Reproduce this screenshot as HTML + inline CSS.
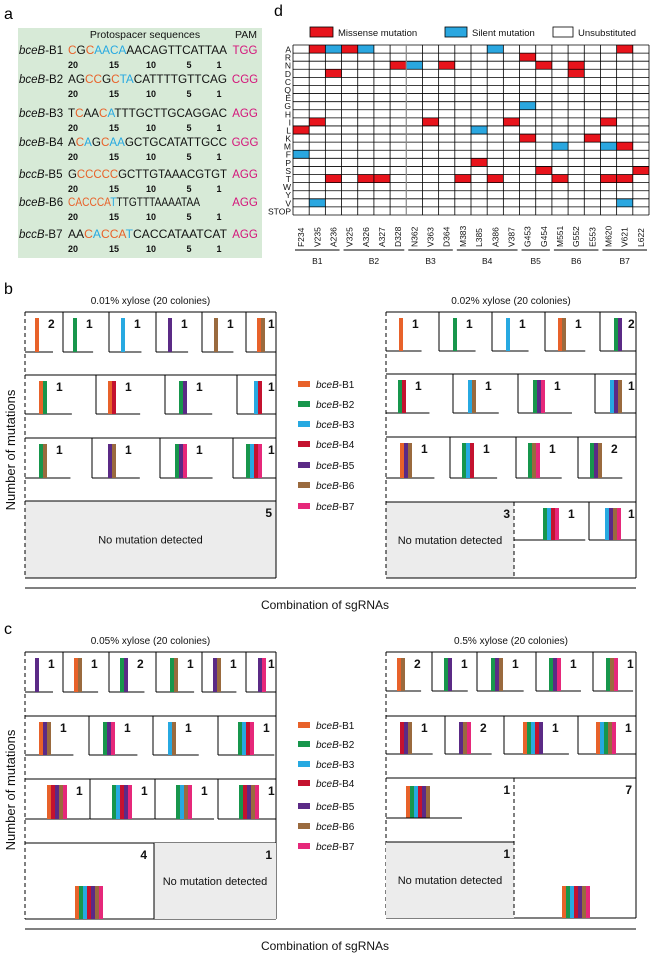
<!DOCTYPE html>
<html><head><meta charset="utf-8"><style>
html,body{margin:0;padding:0;background:#fff;}
svg{display:block;font-family:"Liberation Sans",Arial,sans-serif;}
</style></head><body>
<svg id="s" width="650" height="956" viewBox="0 0 650 956" xmlns="http://www.w3.org/2000/svg">
<text x="4" y="19" font-size="16">a</text>
<text x="274" y="16" font-size="16">d</text>
<text x="4" y="294" font-size="16">b</text>
<text x="4" y="634" font-size="16">c</text>
</svg>
<script>
var s=document.getElementById('s'),NS='http://www.w3.org/2000/svg';
function E(t,a,txt){var e=document.createElementNS(NS,t);for(var k in a)e.setAttribute(k,a[k]);if(txt!=null)e.textContent=txt;s.appendChild(e);return e;}
function L(x1,y1,x2,y2,d,c,w){var a={x1:x1,y1:y1,x2:x2,y2:y2,stroke:c||'#000','stroke-width':w||1};if(d)a['stroke-dasharray']='4,3';E('line',a);}
function R(x,y,w,h,f,st){var a={x:x,y:y,width:w,height:h,fill:f};if(st){a.stroke=st;a['stroke-width']=0.8;}E('rect',a);}
function T(x,y,t,sz,an,w,c,extra){var a={x:x,y:y,'font-size':sz,'text-anchor':an||'start',fill:c||'#111'};if(w)a['font-weight']=w;for(var k in extra)a[k]=extra[k];return E('text',a,t);}
var C={o:'#e8622a',g:'#17964c',b:'#27a9e1',r:'#c4122f',p:'#5b2a86',n:'#9a6a3e',k:'#e6287a'};
// ---- panel a
R(18,28,244,230,'#d7ead7');
T(145,38,'Protospacer sequences',10.5,'middle');T(246,38,'PAM',10.5,'middle');
var seqs=[['B1','CGCAACAAACAGTTCATTAA','okobbbb','TGG'],['B2','AGCCGCTACATTTTGTTCAG','kkookobb','CGG'],['B3','TCAACATTTGCTTGCAGGAC','kokkob','AGG'],['B4','ACAGCAAGCTGCATATTGCC','kobkobb','GGG'],['B5','GCCCCCGCTTGTAAACGTGT','kooooo','AGG'],['B6','CACCCATTTGTTTAAAATAA','oooooob','AGG'],['B7','AACACCATCACCATAATCAT','kkobooob','AGG']];
var ys=[54,83,117,146,178,206,238];
seqs.forEach(function(r,i){var y=ys[i];
 var t=T(19,y,'',11.5);var a=document.createElementNS(NS,'tspan');a.setAttribute('font-style','italic');a.textContent=(i==4||i==6)?'bccB':'bceB';t.appendChild(a);var b=document.createElementNS(NS,'tspan');b.textContent='-'+r[0];t.appendChild(b);
 var w=(i==5)?132:159;var st=T(68,y,'',11.5,'start',null,null,{textLength:w,lengthAdjust:'spacingAndGlyphs'});
 for(var j=0;j<20;j++){var sp=document.createElementNS(NS,'tspan');var cc=r[2][j];sp.setAttribute('fill',cc=='o'?C.o:cc=='b'?C.b:'#111');sp.textContent=r[1][j];st.appendChild(sp);}
 T(245,y,r[3],11.5,'middle',null,'#d4157a');
 [[73,'20'],[114,'15'],[151,'10'],[189,'5'],[219,'1']].forEach(function(n){T(n[0],y+14,n[1],9,'middle','bold');});
});
// ---- panel d
R(310,27,23,10,'#e8141c','#000');T(338,36,'Missense mutation',9.5);
R(445,27,22,10,'#2aa7e0','#000');T(472,36,'Silent mutation',9.5);
R(553,27,20,10,'#fff','#000');T(578,36,'Unsubstituted',9.5);
var gx=293,gy=45,cw=(649-293)/22,rh=(215-45)/21;
var aa=['A','R','N','D','C','Q','E','G','H','I','L','K','M','F','P','S','T','W','Y','V','STOP'];
var cols=['F234','V235','A236','V325','A326','A327','D328','N362','V363','D364','M383','L385','A386','V387','G453','G454','M551','G552','E553','M620','V621','L622'];
var cells={0:[[1,'r'],[2,'b'],[3,'r'],[4,'b'],[12,'b'],[20,'r']],1:[[14,'r']],2:[[6,'r'],[7,'b'],[9,'r'],[15,'r'],[17,'r']],3:[[2,'r'],[17,'r']],7:[[14,'b']],9:[[1,'r'],[8,'r'],[13,'r'],[19,'r']],10:[[0,'r'],[11,'b']],11:[[14,'r'],[18,'r']],12:[[16,'b'],[19,'b'],[20,'r']],13:[[0,'b']],14:[[11,'r']],15:[[15,'r'],[21,'r']],16:[[2,'r'],[4,'r'],[5,'r'],[10,'r'],[12,'r'],[16,'r'],[19,'r'],[20,'r']],19:[[1,'b'],[20,'b']]};
for(var r in cells)cells[r].forEach(function(c){R(gx+c[0]*cw,gy+r*rh,cw,rh,c[1]=='r'?'#e8141c':'#2aa7e0');});
for(var i=0;i<=21;i++)L(gx,gy+i*rh,649,gy+i*rh,0,'#000',0.8);
for(var j=0;j<=22;j++)L(gx+j*cw,gy,gx+j*cw,215,0,j==7?'#888':'#000',j==7?1.2:0.8);
aa.forEach(function(a,i){T(291,gy+i*rh+7.5,a,8.5,'end');});
cols.forEach(function(c,j){var x=gx+j*cw+cw/2+3;T(x,247,c,8.5,'start',null,'#111',{transform:'rotate(-90 '+x+' 247)'});});
[[0,3,'B1'],[3,7,'B2'],[7,10,'B3'],[10,14,'B4'],[14,16,'B5'],[16,19,'B6'],[19,22,'B7']].forEach(function(g){L(gx+g[0]*cw+2,250,gx+g[1]*cw-2,250,0,'#000',0.9);T(gx+(g[0]+g[1])*cw/2,264,g[2],8.5,'middle');});
// ---- grid panels helpers
function bars(x,y1,y2,cs){for(var i=0;i<cs.length;i++)R(x+i*4,y1,4,y2-y1,C[cs[i]]);}
function row(top,base,cellsArr,x1){cellsArr.forEach(function(c,i){var cx=c[0],bx=c[1],cs=c[2],n=c[3];var be=bx+cs.length*4;
 if(i>0)L(cx,top,cx,base);
 var nx=(i+1<cellsArr.length)?cellsArr[i+1][0]:x1;L(cx,base,Math.min(be+Math.max(14,(nx-cx)*0.35),nx),base);
 bars(bx,top+6,base,cs);T(Math.min(be+9,nx-8),top+16,String(n),12,'start','bold');});}
function box(x0,x1,tops,bot,title){T((x0+x1)/2,tops[0]-8,title,10,'middle');
 L(x0,tops[0],x0,bot,1);L(x1,tops[0],x1,bot);L(x0,bot,x1,bot);tops.forEach(function(t){L(x0,t,x1,t);});}
function legend(x,yy){['B1','B2','B3','B4','B5','B6','B7'].forEach(function(b,i){var c=C['ogbrpnk'[i]];R(x,yy[i]-4,12,6,c);var t=T(x+18,yy[i]+3,'',10);var a=document.createElementNS(NS,'tspan');a.setAttribute('font-style','italic');a.textContent='bceB';t.appendChild(a);var d=document.createElementNS(NS,'tspan');d.textContent='-'+b;t.appendChild(d);});}
function ylab(y){T(15,y,'Number of mutations',13,'middle',null,'#111',{transform:'rotate(-90 15 '+y+')'});}
function gray(x,y,w,h,n,nx){R(x,y,w,h,'#ececec');T(x+w/2,y+h/2+4,'No mutation detected',11,'middle');T(nx,y+16,n,12,'end','bold');}
// ---- panel b left
gray(25,501,251,77,'5',272);
box(25,276,[312,375,438,501],578,'0.01% xylose (20 colonies)');
row(312,352,[[25,35,'o',2],[63,73,'g',1],[109,121,'b',1],[156,168,'p',1],[202,214,'n',1],[246,257,'on',1]],276);
row(375,414,[[25,39,'og',1],[96,108,'or',1],[165,179,'gp',1],[237,254,'br',1]],276);
row(438,478,[[25,39,'gn',1],[92,108,'pn',1],[160,175,'gpk',1],[233,246,'gbrk',1]],276);
// ---- panel b right
gray(386,502,128,76,'3',510);
box(386,636,[312,374,437,502],578,'0.02% xylose (20 colonies)');
L(514,502,514,578,1);
row(312,351,[[386,399,'o',1],[439,453,'g',1],[492,506,'b',1],[545,558,'on',1],[600,614,'gp',2]],636);
row(374,413,[[386,398,'gr',1],[453,468,'bn',1],[518,533,'gpk',1],[595,610,'bpn',1]],636);
row(437,478,[[386,400,'opn',1],[450,462,'gbr',1],[516,528,'gnk',1],[578,590,'gpn',2]],636);
row(502,540,[[514,543,'gbrk',1],[589,605,'bpnk',1]],636);
legend(298,[385,405,425,445,466,486,507]);ylab(450);
L(25,588,636,588);T(325,609,'Combination of sgRNAs',12,'middle');
// ---- panel c left
box(25,276,[652,716,779,843],919,'0.05% xylose (20 colonies)');
gray(154,843,122,76,'1',272);L(154,843,154,919);
row(652,692,[[25,35,'p',1],[63,74,'on',1],[109,120,'gp',2],[156,170,'gn',1],[202,213,'pn',1],[246,258,'pk',1]],276);
row(716,755,[[25,39,'opn',1],[89,103,'gpk',1],[153,168,'bn',1],[218,238,'gbrk',1]],276);
row(779,819,[[25,47,'orpnk',1],[90,112,'gbrpk',1],[155,176,'gbnk',1],[218,239,'grpnk',1]],276);
bars(75,886,919,'ogbrpnk');T(147,859,'4',12,'end','bold');
// ---- panel c right
box(386,636,[652,716,778],918,'0.5% xylose (20 colonies)');
gray(386,842,128,76,'1',510);L(386,842,514,842);L(514,778,514,918,1);
row(652,691,[[386,397,'on',2],[432,444,'gp',1],[477,491,'gpn',1],[536,549,'gpk',1],[593,606,'gnk',1]],636);
row(716,754,[[386,400,'rpn',1],[445,459,'pnk',2],[504,523,'ogbrp',1],[578,596,'obgnk',1]],636);
bars(406,786,818,'ogbrpn');L(386,818,462,818);T(510,794,'1',12,'end','bold');
bars(562,886,918,'ogbrpnk');T(632,794,'7',12,'end','bold');
legend(298,[726,745,765,784,807,827,847]);ylab(790);
L(25,929,636,929);T(325,950,'Combination of sgRNAs',12,'middle');
</script>
</body></html>
